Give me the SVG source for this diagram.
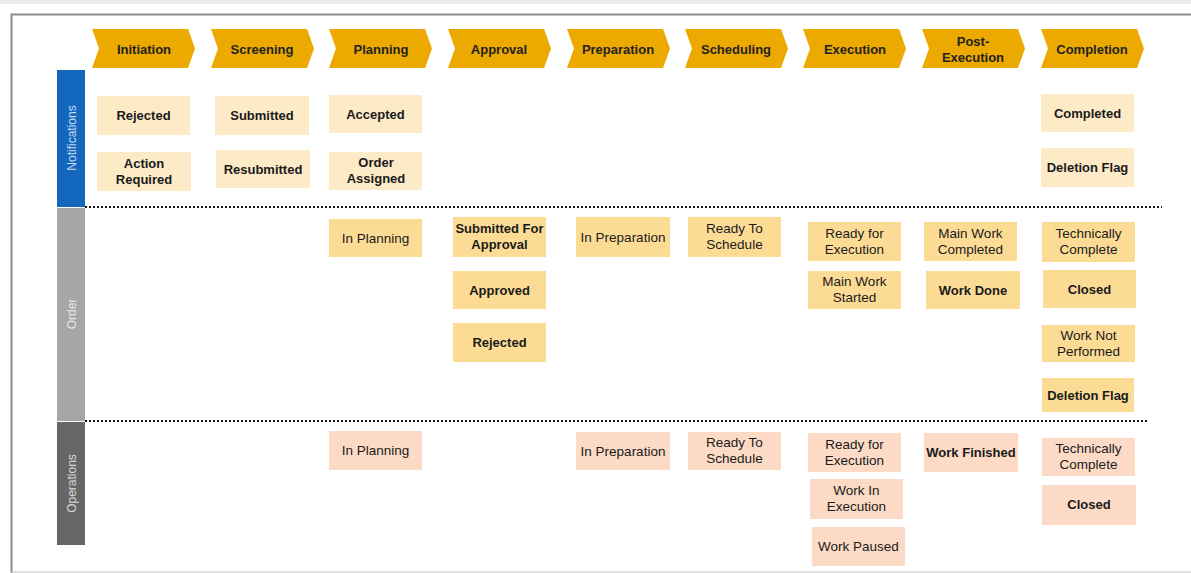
<svg xmlns="http://www.w3.org/2000/svg" width="1191" height="573" viewBox="0 0 1191 573">
<style>
text{font-family:"Liberation Sans",Arial,sans-serif;text-anchor:middle;fill:#1a1a1a}
.hd{font-size:13px;font-weight:bold;fill:#222}
.chev{fill:#ECA900}
.n{fill:#FDEBC8}
.o{fill:#FCDC95}
.p{fill:#FCDAC6}
.t{font-size:13px;font-weight:bold}
.r{font-size:13.5px}
.lane{font-size:12px;fill:#ffffff;fill-opacity:0.75}
.sep{stroke:#111;stroke-width:2;stroke-dasharray:2 2;fill:none}
</style>
<defs>
<path id="chv" d="M0 0 H96 L103 19.5 L96 39 H0 L7 19.5 Z"/>
</defs>
<rect x="0" y="0" width="1191" height="573" fill="#ffffff"/>
<rect x="0" y="0" width="1191" height="4" fill="#ebebeb"/>
<path d="M11.5 573 V14.5 H1191" fill="none" stroke="#8c8c8c" stroke-width="2"/>
<line x1="11" y1="572" x2="1191" y2="572" stroke="#bdbdbd" stroke-width="1"/>

<g id="phases">
<g id="ph-initiation"><use href="#chv" x="92" y="29" class="chev"/><text class="hd" x="144" y="54">Initiation</text></g>
<g id="ph-screening"><use href="#chv" x="211" y="29" class="chev"/><text class="hd" x="262" y="54">Screening</text></g>
<g id="ph-planning"><use href="#chv" x="329" y="29" class="chev"/><text class="hd" x="381" y="54">Planning</text></g>
<g id="ph-approval"><use href="#chv" x="448" y="29" class="chev"/><text class="hd" x="499" y="54">Approval</text></g>
<g id="ph-preparation"><use href="#chv" x="567" y="29" class="chev"/><text class="hd" x="618" y="54">Preparation</text></g>
<g id="ph-scheduling"><use href="#chv" x="685" y="29" class="chev"/><text class="hd" x="736" y="54">Scheduling</text></g>
<g id="ph-execution"><use href="#chv" x="803" y="29" class="chev"/><text class="hd" x="855" y="54">Execution</text></g>
<g id="ph-postexecution"><use href="#chv" x="922" y="29" class="chev"/><text class="hd" x="973" y="46">Post-</text><text class="hd" x="973" y="62">Execution</text></g>
<g id="ph-completion"><use href="#chv" x="1041" y="29" class="chev"/><text class="hd" x="1092" y="54">Completion</text></g>
</g>

<g id="lanes">
<g id="lane-notifications"><rect x="57" y="70" width="28" height="137" fill="#1368BE"/><text class="lane" transform="translate(75.5 138) rotate(-90)">Notifications</text></g>
<g id="lane-order"><rect x="57" y="208" width="28" height="213" fill="#A6A6A6"/><text class="lane" fill-opacity="0.6" transform="translate(75.5 314) rotate(-90)">Order</text></g>
<g id="lane-operations"><rect x="57" y="422" width="28" height="123" fill="#666666"/><text class="lane" fill-opacity="0.6" transform="translate(75.5 483.5) rotate(-90)">Operations</text></g>
</g>

<g id="connectors">
<line class="sep" x1="85" y1="207" x2="1162" y2="207"/>
<line class="sep" x1="85" y1="421" x2="1147" y2="421"/>
</g>

<g id="notification-states">
<g id="n-rejected"><rect class="n" x="97" y="96" width="93" height="39"/><text class="t" x="143.5" y="120">Rejected</text></g>
<g id="n-action-required"><rect class="n" x="97" y="152" width="94" height="39"/><text class="t" x="144" y="167.5">Action</text><text class="t" x="144" y="183.5">Required</text></g>
<g id="n-submitted"><rect class="n" x="215" y="96" width="94" height="39"/><text class="t" x="262" y="120">Submitted</text></g>
<g id="n-resubmitted"><rect class="n" x="216" y="150" width="94" height="38"/><text class="t" x="263" y="173.5">Resubmitted</text></g>
<g id="n-accepted"><rect class="n" x="329" y="95" width="93" height="38"/><text class="t" x="375.5" y="118.5">Accepted</text></g>
<g id="n-order-assigned"><rect class="n" x="329" y="152" width="93" height="38"/><text class="t" x="376" y="167">Order</text><text class="t" x="376" y="183">Assigned</text></g>
<g id="n-completed"><rect class="n" x="1041" y="94" width="93" height="38"/><text class="t" x="1087.5" y="118">Completed</text></g>
<g id="n-deletion-flag"><rect class="n" x="1041" y="148" width="93" height="39"/><text class="t" x="1087.5" y="172">Deletion Flag</text></g>
</g>

<g id="order-states">
<g id="o-in-planning"><rect class="o" x="329" y="219" width="93" height="38"/><text class="r" x="375.5" y="242.5">In Planning</text></g>
<g id="o-submitted-approval"><rect class="o" x="453" y="217" width="93" height="40"/><text class="t" x="499.5" y="233">Submitted For</text><text class="t" x="499.5" y="249">Approval</text></g>
<g id="o-approved"><rect class="o" x="453" y="271" width="93" height="38"/><text class="t" x="499.5" y="294.5">Approved</text></g>
<g id="o-rejected"><rect class="o" x="453" y="323" width="93" height="39"/><text class="t" x="499.5" y="347">Rejected</text></g>
<g id="o-in-preparation"><rect class="o" x="576" y="217" width="94" height="40"/><text class="r" x="623" y="241.5">In Preparation</text></g>
<g id="o-ready-to-schedule"><rect class="o" x="688" y="217" width="93" height="40"/><text class="r" x="734.5" y="233">Ready To</text><text class="r" x="734.5" y="249">Schedule</text></g>
<g id="o-ready-for-execution"><rect class="o" x="808" y="222" width="93" height="39"/><text class="r" x="854.5" y="237.5">Ready for</text><text class="r" x="854.5" y="253.5">Execution</text></g>
<g id="o-main-work-started"><rect class="o" x="808" y="271" width="93" height="38"/><text class="r" x="854.5" y="286">Main Work</text><text class="r" x="854.5" y="302">Started</text></g>
<g id="o-main-work-completed"><rect class="o" x="924" y="222" width="93" height="39"/><text class="r" x="970.5" y="237.5">Main Work</text><text class="r" x="970.5" y="253.5">Completed</text></g>
<g id="o-work-done"><rect class="o" x="926" y="271" width="94" height="38"/><text class="t" x="973" y="294.5">Work Done</text></g>
<g id="o-technically-complete"><rect class="o" x="1042" y="222" width="93" height="40"/><text class="r" x="1088.5" y="238">Technically</text><text class="r" x="1088.5" y="254">Complete</text></g>
<g id="o-closed"><rect class="o" x="1043" y="270" width="93" height="38"/><text class="t" x="1089.5" y="294">Closed</text></g>
<g id="o-work-not-performed"><rect class="o" x="1042" y="325" width="93" height="37"/><text class="r" x="1088.5" y="340">Work Not</text><text class="r" x="1088.5" y="356">Performed</text></g>
<g id="o-deletion-flag"><rect class="o" x="1042" y="378" width="92" height="34"/><text class="t" x="1088" y="399.5">Deletion Flag</text></g>
</g>

<g id="operation-states">
<g id="p-in-planning"><rect class="p" x="329" y="431" width="93" height="39"/><text class="r" x="375.5" y="455">In Planning</text></g>
<g id="p-in-preparation"><rect class="p" x="576" y="432" width="94" height="38"/><text class="r" x="623" y="455.5">In Preparation</text></g>
<g id="p-ready-to-schedule"><rect class="p" x="688" y="432" width="93" height="38"/><text class="r" x="734.5" y="447">Ready To</text><text class="r" x="734.5" y="463">Schedule</text></g>
<g id="p-ready-for-execution"><rect class="p" x="808" y="433" width="93" height="39"/><text class="r" x="854.5" y="448.5">Ready for</text><text class="r" x="854.5" y="464.5">Execution</text></g>
<g id="p-work-in-execution"><rect class="p" x="810" y="479" width="93" height="40"/><text class="r" x="856.5" y="495">Work In</text><text class="r" x="856.5" y="511">Execution</text></g>
<g id="p-work-paused"><rect class="p" x="812" y="527" width="93" height="39"/><text class="r" x="858.5" y="551">Work Paused</text></g>
<g id="p-work-finished"><rect class="p" x="924" y="433" width="94" height="39"/><text class="t" x="971" y="457">Work Finished</text></g>
<g id="p-technically-complete"><rect class="p" x="1042" y="438" width="93" height="38"/><text class="r" x="1088.5" y="453">Technically</text><text class="r" x="1088.5" y="469">Complete</text></g>
<g id="p-closed"><rect class="p" x="1042" y="485" width="94" height="40"/><text class="t" x="1089" y="509">Closed</text></g>
</g>
</svg>
